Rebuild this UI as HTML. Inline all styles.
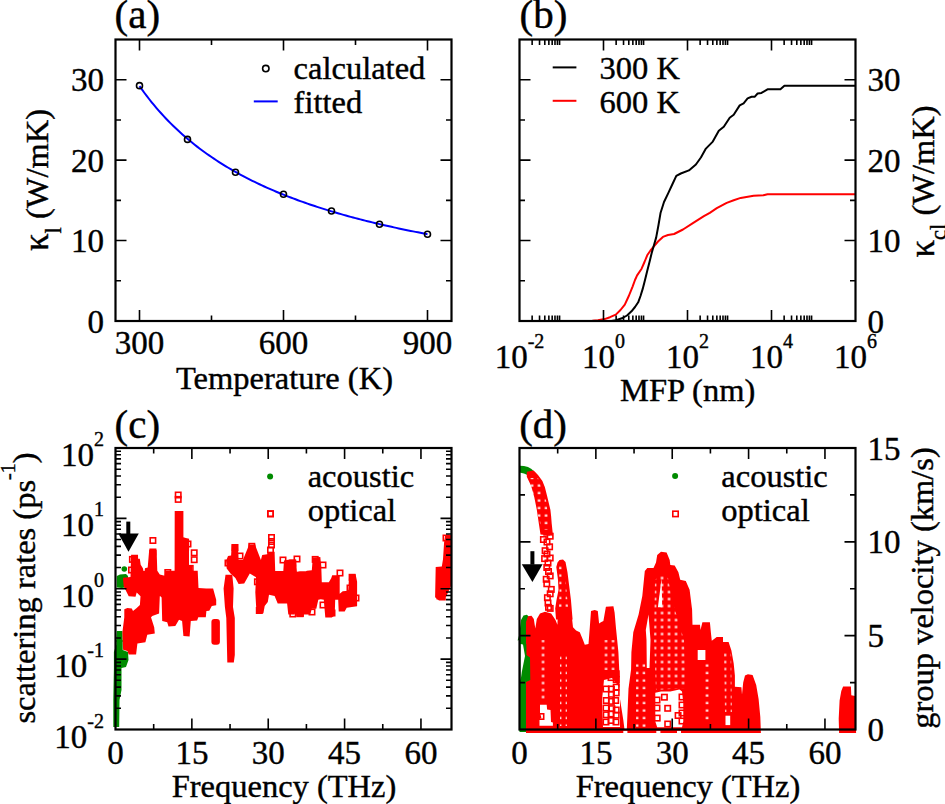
<!DOCTYPE html>
<html><head><meta charset="utf-8"><style>html,body{margin:0;padding:0;background:#fff;overflow:hidden}svg{display:block}</style></head>
<body><svg width="945" height="804" viewBox="0 0 945 804" font-family="Liberation Serif, serif" fill="#000"><style>text{stroke:#000;stroke-width:0.4px}</style>
<g id="plotmarks"><path d="M139.50 86.07 L141.90 89.45 L144.30 92.73 L146.70 95.92 L149.10 99.01 L151.50 102.02 L153.90 104.95 L156.30 107.79 L158.70 110.56 L161.10 113.26 L163.50 115.89 L165.90 118.45 L168.30 120.94 L170.70 123.37 L173.10 125.74 L175.50 128.06 L177.90 130.31 L180.30 132.52 L182.70 134.67 L185.10 136.77 L187.50 138.83 L189.90 140.84 L192.30 142.80 L194.70 144.72 L197.10 146.60 L199.50 148.43 L201.90 150.23 L204.30 151.99 L206.70 153.71 L209.10 155.40 L211.50 157.05 L213.90 158.67 L216.30 160.26 L218.70 161.82 L221.10 163.34 L223.50 164.84 L225.90 166.31 L228.30 167.75 L230.70 169.16 L233.10 170.54 L235.50 171.90 L237.90 173.24 L240.30 174.55 L242.70 175.84 L245.10 177.10 L247.50 178.35 L249.90 179.57 L252.30 180.77 L254.70 181.95 L257.10 183.11 L259.50 184.25 L261.90 185.37 L264.30 186.47 L266.70 187.56 L269.10 188.62 L271.50 189.67 L273.90 190.70 L276.30 191.72 L278.70 192.72 L281.10 193.71 L283.50 194.68 L285.90 195.63 L288.30 196.57 L290.70 197.50 L293.10 198.41 L295.50 199.31 L297.90 200.19 L300.30 201.07 L302.70 201.93 L305.10 202.77 L307.50 203.61 L309.90 204.43 L312.30 205.24 L314.70 206.04 L317.10 206.83 L319.50 207.61 L321.90 208.38 L324.30 209.14 L326.70 209.88 L329.10 210.62 L331.50 211.35 L333.90 212.07 L336.30 212.77 L338.70 213.47 L341.10 214.16 L343.50 214.84 L345.90 215.52 L348.30 216.18 L350.70 216.84 L353.10 217.48 L355.50 218.12 L357.90 218.75 L360.30 219.38 L362.70 219.99 L365.10 220.60 L367.50 221.20 L369.90 221.80 L372.30 222.38 L374.70 222.96 L377.10 223.54 L379.50 224.10 L381.90 224.66 L384.30 225.21 L386.70 225.76 L389.10 226.30 L391.50 226.84 L393.90 227.37 L396.30 227.89 L398.70 228.40 L401.10 228.92 L403.50 229.42 L405.90 229.92 L408.30 230.42 L410.70 230.90 L413.10 231.39 L415.50 231.87 L417.90 232.34 L420.30 232.81 L422.70 233.27 L425.10 233.73 L427.50 234.18" fill="none" stroke="#0000ff" stroke-width="2"/>
<circle cx="139.50" cy="85.67" r="3" fill="none" stroke="#000" stroke-width="1.6"/>
<circle cx="187.50" cy="139.39" r="3" fill="none" stroke="#000" stroke-width="1.6"/>
<circle cx="235.50" cy="172.21" r="3" fill="none" stroke="#000" stroke-width="1.6"/>
<circle cx="283.50" cy="194.32" r="3" fill="none" stroke="#000" stroke-width="1.6"/>
<circle cx="331.50" cy="210.97" r="3" fill="none" stroke="#000" stroke-width="1.6"/>
<circle cx="379.50" cy="224.24" r="3" fill="none" stroke="#000" stroke-width="1.6"/>
<circle cx="427.50" cy="234.30" r="3" fill="none" stroke="#000" stroke-width="1.6"/>
<path d="M585.0 321.0 L592.3 320.8 L598.0 320.3 L604.6 319.1 L610.0 317.2 L615.8 314.6 L620.5 310.0 L624.8 304.6 L628.8 296.0 L632.6 286.6 L635.0 280.0 L637.1 275.4 L641.6 268.7 L644.5 262.0 L647.2 255.3 L650.5 250.5 L653.9 246.3 L658.0 241.5 L662.9 236.9 L668.0 235.0 L674.1 234.0 L683.0 229.5 L692.9 223.1 L703.9 216.2 L709.8 212.8 L716.8 208.2 L726.7 202.9 L733.7 200.3 L740.7 197.9 L753.6 195.7 L763.5 195.3 L767.5 194.3 L855.5 194.3" fill="none" stroke="#ff0000" stroke-width="2" stroke-linejoin="round"/>
<path d="M611.4 321.0 L616.0 320.2 L622.6 318.0 L627.0 315.5 L631.5 311.3 L635.0 307.0 L638.2 302.3 L640.5 296.0 L642.7 288.9 L645.0 280.0 L647.2 271.0 L649.5 262.0 L651.7 253.0 L654.0 245.0 L656.2 237.4 L658.5 225.0 L660.6 212.7 L664.0 202.0 L668.5 192.6 L672.5 184.0 L676.3 175.8 L680.8 173.5 L688.9 170.4 L695.9 164.5 L700.9 157.5 L705.9 148.6 L712.8 141.6 L718.8 130.7 L723.8 126.7 L729.7 117.7 L733.7 114.7 L739.7 105.4 L743.6 103.4 L747.6 98.4 L751.6 96.8 L754.6 96.8 L757.6 93.5 L761.5 92.9 L767.5 89.3 L780.4 89.3 L784.4 85.7 L855.5 85.7" fill="none" stroke="#000" stroke-width="2" stroke-linejoin="round"/><polygon points="116.2,640.0 122.7,640.0 122.7,650.0 128.0,652.0 128.5,660.0 126.0,667.0 121.5,668.0 121.5,690.0 119.5,700.0 119.2,727.0 113.3,727.0 113.3,700.0 113.9,668.0 113.9,652.0 116.2,645.0" fill="#008b00"/>
<polygon points="116.8,576.0 120.0,574.5 126.0,574.0 128.0,576.0 128.0,587.0 122.0,588.0 116.8,587.5" fill="#008b00"/>
<polygon points="116.8,631.0 122.4,631.0 122.7,642.0 116.2,642.0" fill="#008b00"/>
<circle cx="124.3" cy="569" r="2.8" fill="#008b00"/>
<polygon points="123.1,577.7 130.5,577.1 131.1,554.7 138.0,554.7 138.1,558.7 139.8,558.7 140.7,564.8 142.9,568.3 143.5,571.0 144.6,570.9 145.0,568.3 147.7,567.5 149.2,549.7 156.6,549.7 157.3,570.8 159.8,574.6 164.7,575.8 165.3,570.8 174.6,570.8 174.7,511.1 183.4,511.1 183.4,537.3 189.0,539.1 189.0,565.9 192.1,565.9 192.1,570.8 197.7,570.8 198.5,588.0 206.2,588.5 213.1,588.5 216.2,599.7 216.2,605.2 211.8,605.9 209.3,610.8 206.4,611.1 205.8,617.3 198.3,617.3 197.1,620.4 190.8,621.0 189.6,636.6 183.4,636.0 182.1,621.0 179.0,619.8 175.3,626.0 168.5,626.6 167.2,622.3 162.2,621.0 161.6,597.4 160.4,596.2 159.8,596.2 159.1,613.6 152.3,616.1 151.0,617.3 154.2,627.3 154.8,633.5 147.3,634.7 145.4,642.2 137.4,643.4 136.1,654.6 128.7,654.6 127.4,650.9 123.1,649.7 122.4,632.2 124.3,617.3 124.3,609.2 127.4,608.0 131.8,608.6 133.0,611.1 136.7,608.0 139.9,604.9 140.5,596.2 136.7,592.4 135.5,596.8 128.7,596.2 123.7,586.2 123.1,580.0" fill="#ff0000"/>
<rect x="211.4" y="618.9" width="8.5" height="25.8" rx="3" fill="#ff0000"/>
<polygon points="225.5,574.8 232.3,574.8 233.6,588.5 233.0,607.1 234.8,617.9 234.8,655.0 233.8,662.6 227.3,662.6 226.3,617.9 224.9,607.1 223.6,588.5" fill="#ff0000"/>
<polygon points="226.1,561.1 228.0,556.1 231.1,555.5 231.7,544.3 237.9,544.3 238.6,559.9 242.9,559.9 248.5,546.2 255.3,545.5 260.9,559.9 262.2,554.9 267.2,554.3 267.8,551.8 274.6,551.8 275.2,571.0 283.3,571.0 284.0,560.4 289.5,559.4 295.9,559.4 296.9,571.8 299.9,571.3 305.9,571.3 306.9,570.8 311.8,570.3 312.8,557.4 320.3,556.9 321.3,566.9 321.8,582.3 328.8,582.3 331.2,578.3 332.2,575.3 339.7,575.3 339.7,593.7 342.7,591.2 348.2,590.7 349.2,574.3 355.6,574.3 357.1,581.8 357.1,606.2 346.7,607.7 344.7,611.6 338.7,611.6 338.2,599.7 335.2,599.7 334.7,615.6 331.7,617.6 325.3,617.6 323.8,599.7 320.8,599.2 318.3,599.7 316.3,608.7 311.8,608.7 310.3,614.6 303.9,614.6 303.4,616.6 296.4,616.6 295.9,611.6 294.4,614.6 288.3,614.6 287.1,603.4 277.7,603.4 274.6,595.9 269.0,594.7 267.8,602.1 264.7,605.9 263.4,613.3 256.6,613.3 256.0,604.6 255.3,592.2 256.0,577.3 249.8,573.5 244.2,583.5 238.6,584.1 235.4,577.9 230.5,573.5 226.7,568.6" fill="#ff0000"/>
<polygon points="445.2,535.1 451.0,535.1 451.0,586.0 445.8,597.3 445.8,600.6 439.0,600.6 435.1,597.3 435.7,567.0 441.8,566.5 443.0,559.2 444.1,542.4" fill="#ff0000"/>
<rect x="175.5" y="492.3" width="5.4" height="5.4" fill="none" stroke="#ff0000" stroke-width="1.6"/>
<rect x="175.5" y="496.7" width="5.4" height="5.4" fill="none" stroke="#ff0000" stroke-width="1.6"/>
<rect x="150.2" y="537.8" width="5.4" height="5.4" fill="none" stroke="#ff0000" stroke-width="1.6"/>
<rect x="191.5" y="550.1" width="5.4" height="5.4" fill="none" stroke="#ff0000" stroke-width="1.6"/>
<rect x="191.5" y="557.0" width="5.4" height="5.4" fill="none" stroke="#ff0000" stroke-width="1.6"/>
<rect x="182.9" y="539.5" width="5.4" height="5.4" fill="none" stroke="#ff0000" stroke-width="1.6"/>
<rect x="182.9" y="544.5" width="5.4" height="5.4" fill="none" stroke="#ff0000" stroke-width="1.6"/>
<rect x="187.5" y="565.7" width="5.4" height="5.4" fill="none" stroke="#ff0000" stroke-width="1.6"/>
<rect x="267.8" y="511.0" width="5.4" height="5.4" fill="none" stroke="#ff0000" stroke-width="1.6"/>
<rect x="268.8" y="534.8" width="5.4" height="5.4" fill="none" stroke="#ff0000" stroke-width="1.6"/>
<rect x="268.8" y="538.8" width="5.4" height="5.4" fill="none" stroke="#ff0000" stroke-width="1.6"/>
<rect x="268.8" y="542.3" width="5.4" height="5.4" fill="none" stroke="#ff0000" stroke-width="1.6"/>
<rect x="232.3" y="544.8" width="5.4" height="5.4" fill="none" stroke="#ff0000" stroke-width="1.6"/>
<rect x="249.3" y="545.3" width="5.4" height="5.4" fill="none" stroke="#ff0000" stroke-width="1.6"/>
<rect x="295.6" y="608.1" width="5.4" height="5.4" fill="none" stroke="#ff0000" stroke-width="1.6"/>
<rect x="297.2" y="610.9" width="5.4" height="5.4" fill="none" stroke="#ff0000" stroke-width="1.6"/>
<rect x="349.4" y="574.6" width="5.4" height="5.4" fill="none" stroke="#ff0000" stroke-width="1.6"/>
<rect x="129.7" y="556.7" width="5.4" height="5.4" fill="none" stroke="#ff0000" stroke-width="1.6"/>
<rect x="150.2" y="549.3" width="5.4" height="5.4" fill="none" stroke="#ff0000" stroke-width="1.6"/>
<rect x="165.1" y="569.8" width="5.4" height="5.4" fill="none" stroke="#ff0000" stroke-width="1.6"/>
<rect x="249.1" y="543.6" width="5.4" height="5.4" fill="none" stroke="#ff0000" stroke-width="1.6"/>
<rect x="290.1" y="560.4" width="5.4" height="5.4" fill="none" stroke="#ff0000" stroke-width="1.6"/>
<rect x="312.5" y="556.7" width="5.4" height="5.4" fill="none" stroke="#ff0000" stroke-width="1.6"/>
<rect x="297.6" y="610.9" width="5.4" height="5.4" fill="none" stroke="#ff0000" stroke-width="1.6"/>
<rect x="290.1" y="611.3" width="5.4" height="5.4" fill="none" stroke="#ff0000" stroke-width="1.6"/>
<rect x="256.6" y="607.8" width="5.4" height="5.4" fill="none" stroke="#ff0000" stroke-width="1.6"/>
<rect x="254.7" y="579.1" width="5.4" height="5.4" fill="none" stroke="#ff0000" stroke-width="1.6"/>
<rect x="128.8" y="567.3" width="5.4" height="5.4" fill="none" stroke="#ff0000" stroke-width="1.6"/>
<rect x="185.3" y="541.3" width="5.4" height="5.4" fill="none" stroke="#ff0000" stroke-width="1.6"/>
<rect x="225.3" y="560.3" width="5.4" height="5.4" fill="none" stroke="#ff0000" stroke-width="1.6"/>
<rect x="237.3" y="553.3" width="5.4" height="5.4" fill="none" stroke="#ff0000" stroke-width="1.6"/>
<rect x="267.8" y="547.3" width="5.4" height="5.4" fill="none" stroke="#ff0000" stroke-width="1.6"/>
<rect x="280.3" y="557.3" width="5.4" height="5.4" fill="none" stroke="#ff0000" stroke-width="1.6"/>
<rect x="294.3" y="556.3" width="5.4" height="5.4" fill="none" stroke="#ff0000" stroke-width="1.6"/>
<rect x="320.3" y="562.3" width="5.4" height="5.4" fill="none" stroke="#ff0000" stroke-width="1.6"/>
<rect x="337.3" y="570.3" width="5.4" height="5.4" fill="none" stroke="#ff0000" stroke-width="1.6"/>
<rect x="347.3" y="585.3" width="5.4" height="5.4" fill="none" stroke="#ff0000" stroke-width="1.6"/>
<rect x="353.3" y="595.3" width="5.4" height="5.4" fill="none" stroke="#ff0000" stroke-width="1.6"/>
<rect x="329.3" y="610.3" width="5.4" height="5.4" fill="none" stroke="#ff0000" stroke-width="1.6"/>
<rect x="309.3" y="609.3" width="5.4" height="5.4" fill="none" stroke="#ff0000" stroke-width="1.6"/>
<rect x="320.3" y="602.3" width="5.4" height="5.4" fill="none" stroke="#ff0000" stroke-width="1.6"/>
<rect x="437.3" y="593.3" width="5.4" height="5.4" fill="none" stroke="#ff0000" stroke-width="1.6"/>
<rect x="443.3" y="535.3" width="5.4" height="5.4" fill="none" stroke="#ff0000" stroke-width="1.6"/>
<rect x="126.3" y="521.6" width="4" height="13" fill="#000"/>
<polygon points="118.3,533.5 138.8,533.5 128.5,551.8" fill="#000"/><polygon points="519.5,465.8 524.0,465.9 528.0,467.0 531.5,469.0 533.5,471.0 527.4,475.0 524.0,473.5 519.5,472.6" fill="#008b00"/>
<polygon points="521.0,620.0 523.5,615.5 527.0,614.8 529.0,617.0 529.0,732.0 519.5,732.0 519.5,640.0 517.6,640.5 519.2,635.0" fill="#008b00"/>
<polygon points="519.5,733.0 526.0,733.0 526.0,622.0 528.0,616.2 531.5,615.8 533.8,619.0 535.3,628.5 536.8,619.0 540.0,613.6 545.0,611.8 551.2,613.6 555.5,619.9 557.4,624.8 557.9,613.4 560.5,611.0 566.0,610.5 569.7,611.5 571.6,614.6 573.0,627.3 576.1,630.4 579.8,632.3 582.9,639.8 584.8,644.7 588.5,644.1 589.8,627.3 591.0,611.1 594.7,609.9 597.8,611.1 599.1,623.6 600.9,622.3 603.4,621.1 605.9,606.8 613.4,606.2 614.6,612.4 615.9,627.3 618.4,652.2 619.6,677.1 619.4,695.3 623.3,720.0 624.5,729.5 626.8,729.5 628.5,688.7 631.1,669.2 631.4,652.2 633.3,632.3 638.6,614.6 642.3,596.0 644.8,571.1 647.3,568.0 653.5,568.0 656.0,562.4 657.2,554.9 661.0,551.8 666.6,552.4 669.7,559.9 670.3,564.9 674.7,565.5 678.4,572.3 680.2,579.8 685.8,581.0 689.6,589.8 692.1,609.7 692.5,624.7 700.0,624.7 700.5,630.0 702.4,622.2 709.9,622.2 711.1,634.6 711.8,640.8 716.7,637.1 723.0,637.1 723.0,642.1 728.6,642.1 731.4,650.6 733.7,663.6 734.9,675.5 734.9,686.7 741.4,687.3 742.0,694.4 743.2,682.6 745.0,675.5 747.9,674.3 752.6,674.9 756.2,684.9 758.6,699.1 760.3,716.8 760.9,733.0" fill="#ff0000"/>
<polygon points="540.0,704.8 546.7,704.8 547.1,709.5 550.5,710.0 551.0,721.9 552.9,722.4 552.9,725.7 539.5,725.7 539.5,719.5 541.4,717.6 540.0,712.9" fill="#ffffff"/>
<rect x="538.3" y="713.8" width="5.4" height="5.4" fill="none" stroke="#ff0000" stroke-width="1.6"/>
<polygon points="661.6,578.6 662.2,607.2 657.9,607.2" fill="#ffffff"/>
<polygon points="648.5,614.6 650.5,640.0 649.5,668.0 646.8,668.0 646.5,640.0 645.8,630.0" fill="#ffffff"/>
<polygon points="655.3,692.7 661.1,691.4 670.3,691.4 679.4,689.4 682.0,691.4 683.3,703.1 683.3,721.4 682.0,727.3 657.2,727.3 655.3,721.4" fill="#ffffff"/>
<rect x="661.7" y="694.5" width="5.4" height="5.4" fill="none" stroke="#ff0000" stroke-width="1.6"/>
<rect x="665.0" y="705.6" width="5.4" height="5.4" fill="none" stroke="#ff0000" stroke-width="1.6"/>
<rect x="675.4" y="712.8" width="5.4" height="5.4" fill="none" stroke="#ff0000" stroke-width="1.6"/>
<rect x="654.5" y="715.4" width="5.4" height="5.4" fill="none" stroke="#ff0000" stroke-width="1.6"/>
<rect x="665.0" y="721.3" width="5.4" height="5.4" fill="none" stroke="#ff0000" stroke-width="1.6"/>
<rect x="679.3" y="694.3" width="5.4" height="5.4" fill="none" stroke="#ff0000" stroke-width="1.6"/>
<rect x="679.3" y="702.3" width="5.4" height="5.4" fill="none" stroke="#ff0000" stroke-width="1.6"/>
<rect x="679.3" y="710.3" width="5.4" height="5.4" fill="none" stroke="#ff0000" stroke-width="1.6"/>
<rect x="679.3" y="718.3" width="5.4" height="5.4" fill="none" stroke="#ff0000" stroke-width="1.6"/>
<rect x="654.3" y="697.3" width="5.4" height="5.4" fill="none" stroke="#ff0000" stroke-width="1.6"/>
<rect x="654.3" y="705.3" width="5.4" height="5.4" fill="none" stroke="#ff0000" stroke-width="1.6"/>
<rect x="697.7" y="650" width="7.7" height="10" fill="#fff"/>
<rect x="725.5" y="715.7" width="4.7" height="9.4" fill="#fff"/>
<polygon points="604.0,680.0 612.0,678.0 620.0,688.0 620.0,727.0 603.0,727.0 602.0,700.0" fill="#ffffff"/>
<rect x="608.3" y="669.2" width="5.4" height="5.4" fill="none" stroke="#ff0000" stroke-width="1.6"/>
<rect x="613.5" y="671.1" width="5.4" height="5.4" fill="none" stroke="#ff0000" stroke-width="1.6"/>
<rect x="608.3" y="674.9" width="5.4" height="5.4" fill="none" stroke="#ff0000" stroke-width="1.6"/>
<rect x="613.5" y="676.8" width="5.4" height="5.4" fill="none" stroke="#ff0000" stroke-width="1.6"/>
<rect x="613.5" y="684.4" width="5.4" height="5.4" fill="none" stroke="#ff0000" stroke-width="1.6"/>
<rect x="608.7" y="686.3" width="5.4" height="5.4" fill="none" stroke="#ff0000" stroke-width="1.6"/>
<rect x="613.5" y="690.2" width="5.4" height="5.4" fill="none" stroke="#ff0000" stroke-width="1.6"/>
<rect x="608.7" y="691.6" width="5.4" height="5.4" fill="none" stroke="#ff0000" stroke-width="1.6"/>
<rect x="613.0" y="697.8" width="5.4" height="5.4" fill="none" stroke="#ff0000" stroke-width="1.6"/>
<rect x="608.7" y="698.7" width="5.4" height="5.4" fill="none" stroke="#ff0000" stroke-width="1.6"/>
<rect x="603.5" y="697.8" width="5.4" height="5.4" fill="none" stroke="#ff0000" stroke-width="1.6"/>
<rect x="609.2" y="705.9" width="5.4" height="5.4" fill="none" stroke="#ff0000" stroke-width="1.6"/>
<rect x="613.5" y="707.3" width="5.4" height="5.4" fill="none" stroke="#ff0000" stroke-width="1.6"/>
<rect x="603.5" y="712.1" width="5.4" height="5.4" fill="none" stroke="#ff0000" stroke-width="1.6"/>
<rect x="613.5" y="712.5" width="5.4" height="5.4" fill="none" stroke="#ff0000" stroke-width="1.6"/>
<rect x="608.3" y="717.8" width="5.4" height="5.4" fill="none" stroke="#ff0000" stroke-width="1.6"/>
<rect x="603.3" y="686.3" width="5.4" height="5.4" fill="none" stroke="#ff0000" stroke-width="1.6"/>
<rect x="603.3" y="705.3" width="5.4" height="5.4" fill="none" stroke="#ff0000" stroke-width="1.6"/>
<rect x="608.3" y="711.3" width="5.4" height="5.4" fill="none" stroke="#ff0000" stroke-width="1.6"/>
<rect x="613.3" y="719.3" width="5.4" height="5.4" fill="none" stroke="#ff0000" stroke-width="1.6"/>
<rect x="603.3" y="719.3" width="5.4" height="5.4" fill="none" stroke="#ff0000" stroke-width="1.6"/>
<polygon points="520.3,644.0 526.3,644.0 526.5,655.0 530.0,657.5 530.3,680.0 526.0,682.0 526.0,731.0 519.5,731.0 519.5,644.0" fill="#008b00"/>
<polygon points="520.6,643.9 523.0,644.5 525.0,656.0 521.8,672.0 520.6,680.4" fill="#ffffff"/>
<polygon points="526.8,471.8 526.8,476.7 531.2,486.1 534.3,497.3 536.8,509.7 538.6,522.1 540.5,534.6 553.0,535.8 551.7,523.4 551.1,515.9 550.4,509.7 548.6,502.2 547.1,496.0 544.9,487.3 542.4,481.1 538.0,474.9 533.7,470.5" fill="#ff0000"/>
<rect x="544.1" y="529.5" width="5.4" height="5.4" fill="none" stroke="#ff0000" stroke-width="1.6"/>
<rect x="547.5" y="533.5" width="5.4" height="5.4" fill="none" stroke="#ff0000" stroke-width="1.6"/>
<rect x="540.7" y="536.8" width="5.4" height="5.4" fill="none" stroke="#ff0000" stroke-width="1.6"/>
<rect x="544.3" y="539.3" width="5.4" height="5.4" fill="none" stroke="#ff0000" stroke-width="1.6"/>
<rect x="546.9" y="544.1" width="5.4" height="5.4" fill="none" stroke="#ff0000" stroke-width="1.6"/>
<rect x="542.4" y="548.0" width="5.4" height="5.4" fill="none" stroke="#ff0000" stroke-width="1.6"/>
<rect x="547.5" y="555.3" width="5.4" height="5.4" fill="none" stroke="#ff0000" stroke-width="1.6"/>
<rect x="541.9" y="555.9" width="5.4" height="5.4" fill="none" stroke="#ff0000" stroke-width="1.6"/>
<rect x="544.3" y="551.3" width="5.4" height="5.4" fill="none" stroke="#ff0000" stroke-width="1.6"/>
<rect x="544.1" y="564.8" width="5.4" height="5.4" fill="none" stroke="#ff0000" stroke-width="1.6"/>
<rect x="545.3" y="560.3" width="5.4" height="5.4" fill="none" stroke="#ff0000" stroke-width="1.6"/>
<rect x="547.5" y="573.2" width="5.4" height="5.4" fill="none" stroke="#ff0000" stroke-width="1.6"/>
<rect x="543.5" y="576.6" width="5.4" height="5.4" fill="none" stroke="#ff0000" stroke-width="1.6"/>
<rect x="545.8" y="568.8" width="5.4" height="5.4" fill="none" stroke="#ff0000" stroke-width="1.6"/>
<rect x="544.1" y="581.1" width="5.4" height="5.4" fill="none" stroke="#ff0000" stroke-width="1.6"/>
<rect x="548.6" y="586.7" width="5.4" height="5.4" fill="none" stroke="#ff0000" stroke-width="1.6"/>
<rect x="547.5" y="591.1" width="5.4" height="5.4" fill="none" stroke="#ff0000" stroke-width="1.6"/>
<rect x="544.7" y="595.0" width="5.4" height="5.4" fill="none" stroke="#ff0000" stroke-width="1.6"/>
<rect x="545.8" y="604.6" width="5.4" height="5.4" fill="none" stroke="#ff0000" stroke-width="1.6"/>
<rect x="547.5" y="605.7" width="5.4" height="5.4" fill="none" stroke="#ff0000" stroke-width="1.6"/>
<rect x="545.3" y="600.3" width="5.4" height="5.4" fill="none" stroke="#ff0000" stroke-width="1.6"/>
<polygon points="557.5,562.5 559.5,560.0 563.0,559.5 565.5,562.0 567.5,572.6 569.2,586.0 570.9,599.4 572.6,619.6 556.0,619.6 555.2,608.4 556.5,600.0 558.5,590.0 558.0,580.0 556.3,567.0" fill="#ff0000"/>
<polygon points="559,566 564,566 566.5,590 568,608 559,608 559.5,590" fill="url(#spk2)"/>
<polygon points="843.1,686.5 850.9,686.5 851.3,695.2 855.2,696.1 856.1,733.0 839.1,733.0 838.7,718.7 839.6,700.5 841.3,690.9" fill="#ff0000"/>
<rect x="530.4" y="551.2" width="4" height="13.5" fill="#000"/>
<polygon points="521.8,564.3 542.6,564.3 532.4,581.9" fill="#000"/>
<defs><pattern id="spk" x="0.5" y="0.5" width="7" height="7" patternUnits="userSpaceOnUse"><rect x="2.4" y="2.4" width="2.3" height="2.3" fill="#fff"/></pattern><pattern id="spk2" x="3.5" y="2" width="7" height="7.5" patternUnits="userSpaceOnUse"><rect x="2.4" y="2.4" width="2.3" height="2.3" fill="#fff"/></pattern></defs>
<polygon points="655.0,580.0 661.0,575.0 668.0,578.0 672.0,600.0 684.0,640.0 686.0,688.0 656.0,690.0 654.0,640.0" fill="url(#spk)"/>
<polygon points="636.0,660.0 645.0,660.0 647.0,728.0 636.0,728.0" fill="url(#spk2)"/>
<polygon points="540.0,640.0 548.0,640.0 548.0,700.0 540.0,700.0" fill="url(#spk)"/>
<polygon points="704.0,662.0 712.0,662.0 712.0,722.0 704.0,722.0" fill="url(#spk2)"/>
<polygon points="724.0,650.0 731.0,650.0 732.0,712.0 725.0,712.0" fill="url(#spk)"/>
<polygon points="560.0,655.0 567.0,655.0 567.0,726.0 560.0,726.0" fill="url(#spk2)"/>
<polygon points="604.0,640.0 617.0,640.0 617.0,670.0 604.0,670.0" fill="url(#spk)"/>
<polygon points="529.0,478.0 538.0,478.0 546.0,500.0 550.0,530.0 542.0,530.0 535.0,505.0" fill="url(#spk2)"/>
<path d="M623.3 730.8h4.1v3.5h-4.1zM656.3 730.8h4.1v3.5h-4.1zM677 730.8h4v3.5h-4z" fill="#fff"/></g>
<path d="M139.50 321.0v-11M139.50 39.5v11M283.50 321.0v-11M283.50 39.5v11M427.50 321.0v-11M427.50 39.5v11M211.50 321.0v-5.5M211.50 39.5v5.5M355.50 321.0v-5.5M355.50 39.5v5.5M115.5 240.57h11M451.5 240.57h-11M115.5 160.14h11M451.5 160.14h-11M115.5 79.71h11M451.5 79.71h-11M115.5 280.79h5.5M451.5 280.79h-5.5M115.5 200.36h5.5M451.5 200.36h-5.5M115.5 119.93h5.5M451.5 119.93h-5.5M603.50 321.0v-11M603.50 39.5v11M687.50 321.0v-11M687.50 39.5v11M771.50 321.0v-11M771.50 39.5v11M532.14 321.0v-5.5M532.14 39.5v5.5M539.54 321.0v-5.5M539.54 39.5v5.5M544.79 321.0v-5.5M544.79 39.5v5.5M548.86 321.0v-5.5M548.86 39.5v5.5M552.18 321.0v-5.5M552.18 39.5v5.5M554.99 321.0v-5.5M554.99 39.5v5.5M557.43 321.0v-5.5M557.43 39.5v5.5M559.58 321.0v-5.5M559.58 39.5v5.5M616.14 321.0v-5.5M616.14 39.5v5.5M623.54 321.0v-5.5M623.54 39.5v5.5M628.79 321.0v-5.5M628.79 39.5v5.5M632.86 321.0v-5.5M632.86 39.5v5.5M636.18 321.0v-5.5M636.18 39.5v5.5M638.99 321.0v-5.5M638.99 39.5v5.5M641.43 321.0v-5.5M641.43 39.5v5.5M643.58 321.0v-5.5M643.58 39.5v5.5M700.14 321.0v-5.5M700.14 39.5v5.5M707.54 321.0v-5.5M707.54 39.5v5.5M712.79 321.0v-5.5M712.79 39.5v5.5M716.86 321.0v-5.5M716.86 39.5v5.5M720.18 321.0v-5.5M720.18 39.5v5.5M722.99 321.0v-5.5M722.99 39.5v5.5M725.43 321.0v-5.5M725.43 39.5v5.5M727.58 321.0v-5.5M727.58 39.5v5.5M784.14 321.0v-5.5M784.14 39.5v5.5M791.54 321.0v-5.5M791.54 39.5v5.5M796.79 321.0v-5.5M796.79 39.5v5.5M800.86 321.0v-5.5M800.86 39.5v5.5M804.18 321.0v-5.5M804.18 39.5v5.5M806.99 321.0v-5.5M806.99 39.5v5.5M809.43 321.0v-5.5M809.43 39.5v5.5M811.58 321.0v-5.5M811.58 39.5v5.5M519.5 240.57h11M855.5 240.57h-11M519.5 160.14h11M855.5 160.14h-11M519.5 79.71h11M855.5 79.71h-11M519.5 280.79h5.5M855.5 280.79h-5.5M519.5 200.36h5.5M855.5 200.36h-5.5M519.5 119.93h5.5M855.5 119.93h-5.5M191.86 729.5v-11M191.86 448.0v11M268.23 729.5v-11M268.23 448.0v11M344.59 729.5v-11M344.59 448.0v11M420.95 729.5v-11M420.95 448.0v11M153.68 729.5v-5.5M153.68 448.0v5.5M230.05 729.5v-5.5M230.05 448.0v5.5M306.41 729.5v-5.5M306.41 448.0v5.5M382.77 729.5v-5.5M382.77 448.0v5.5M115.5 659.12h11M451.5 659.12h-11M115.5 588.75h11M451.5 588.75h-11M115.5 518.38h11M451.5 518.38h-11M115.5 708.32h5.5M451.5 708.32h-5.5M115.5 695.92h5.5M451.5 695.92h-5.5M115.5 687.13h5.5M451.5 687.13h-5.5M115.5 680.31h5.5M451.5 680.31h-5.5M115.5 674.74h5.5M451.5 674.74h-5.5M115.5 670.03h5.5M451.5 670.03h-5.5M115.5 665.95h5.5M451.5 665.95h-5.5M115.5 662.35h5.5M451.5 662.35h-5.5M115.5 637.94h5.5M451.5 637.94h-5.5M115.5 625.55h5.5M451.5 625.55h-5.5M115.5 616.76h5.5M451.5 616.76h-5.5M115.5 609.93h5.5M451.5 609.93h-5.5M115.5 604.36h5.5M451.5 604.36h-5.5M115.5 599.65h5.5M451.5 599.65h-5.5M115.5 595.57h5.5M451.5 595.57h-5.5M115.5 591.97h5.5M451.5 591.97h-5.5M115.5 567.57h5.5M451.5 567.57h-5.5M115.5 555.17h5.5M451.5 555.17h-5.5M115.5 546.38h5.5M451.5 546.38h-5.5M115.5 539.56h5.5M451.5 539.56h-5.5M115.5 533.99h5.5M451.5 533.99h-5.5M115.5 529.28h5.5M451.5 529.28h-5.5M115.5 525.20h5.5M451.5 525.20h-5.5M115.5 521.60h5.5M451.5 521.60h-5.5M115.5 497.19h5.5M451.5 497.19h-5.5M115.5 484.80h5.5M451.5 484.80h-5.5M115.5 476.01h5.5M451.5 476.01h-5.5M115.5 469.18h5.5M451.5 469.18h-5.5M115.5 463.61h5.5M451.5 463.61h-5.5M115.5 458.90h5.5M451.5 458.90h-5.5M115.5 454.82h5.5M451.5 454.82h-5.5M115.5 451.22h5.5M451.5 451.22h-5.5M595.86 729.5v-11M595.86 448.0v11M672.23 729.5v-11M672.23 448.0v11M748.59 729.5v-11M748.59 448.0v11M824.95 729.5v-11M824.95 448.0v11M557.68 729.5v-5.5M557.68 448.0v5.5M634.05 729.5v-5.5M634.05 448.0v5.5M710.41 729.5v-5.5M710.41 448.0v5.5M786.77 729.5v-5.5M786.77 448.0v5.5M519.5 635.67h11M855.5 635.67h-11M519.5 541.83h11M855.5 541.83h-11M519.5 682.58h5.5M855.5 682.58h-5.5M519.5 588.75h5.5M855.5 588.75h-5.5M519.5 494.92h5.5M855.5 494.92h-5.5" stroke="#000" stroke-width="1.6" fill="none"/>
<rect x="115.5" y="39.5" width="336.0" height="281.5" fill="none" stroke="#000" stroke-width="2.2"/>
<rect x="519.5" y="39.5" width="336.0" height="281.5" fill="none" stroke="#000" stroke-width="2.2"/>
<rect x="115.5" y="448.0" width="336.0" height="281.5" fill="none" stroke="#000" stroke-width="2.2"/>
<rect x="519.5" y="448.0" width="336.0" height="281.5" fill="none" stroke="#000" stroke-width="2.2"/>
<text x="114.6" y="28.0" font-size="41" text-anchor="start" >(a)</text>
<text x="519.6" y="28.0" font-size="41" text-anchor="start" >(b)</text>
<text x="114.6" y="437.5" font-size="41" text-anchor="start" >(c)</text>
<text x="519.2" y="437.5" font-size="41" text-anchor="start" >(d)</text>
<text x="104.0" y="332.5" font-size="33" text-anchor="end" >0</text>
<text x="104.0" y="252.1" font-size="33" text-anchor="end" >10</text>
<text x="104.0" y="171.6" font-size="33" text-anchor="end" >20</text>
<text x="104.0" y="91.2" font-size="33" text-anchor="end" >30</text>
<text x="139.5" y="354.0" font-size="33" text-anchor="middle" >300</text>
<text x="283.5" y="354.0" font-size="33" text-anchor="middle" >600</text>
<text x="427.5" y="354.0" font-size="33" text-anchor="middle" >900</text>
<text x="284.5" y="388.5" font-size="32.5" text-anchor="middle" >Temperature (K)</text>
<text transform="translate(48,180) rotate(-90)" font-size="32.5" text-anchor="middle"><tspan font-size="35">κ</tspan><tspan font-size="22.5" dy="12.5">l</tspan><tspan dy="-12.5"> (W/mK)</tspan></text>
<circle cx="265.8" cy="68.6" r="3.2" fill="none" stroke="#000" stroke-width="1.6"/>
<path d="M253.8 101.4H277.7" stroke="#0000ff" stroke-width="2"/>
<text x="293.6" y="78.6" font-size="32.5" text-anchor="start" >calculated</text>
<text x="293.6" y="113.0" font-size="32.5" text-anchor="start" >fitted</text>
<text x="867.5" y="332.5" font-size="33" text-anchor="start" >0</text>
<text x="867.5" y="252.1" font-size="33" text-anchor="start" >10</text>
<text x="867.5" y="171.6" font-size="33" text-anchor="start" >20</text>
<text x="867.5" y="91.2" font-size="33" text-anchor="start" >30</text>
<text x="519.5" y="368" font-size="33" text-anchor="middle">10<tspan font-size="20" dy="-20">-2</tspan></text>
<text x="603.5" y="368" font-size="33" text-anchor="middle">10<tspan font-size="20" dy="-20">0</tspan></text>
<text x="687.5" y="368" font-size="33" text-anchor="middle">10<tspan font-size="20" dy="-20">2</tspan></text>
<text x="771.5" y="368" font-size="33" text-anchor="middle">10<tspan font-size="20" dy="-20">4</tspan></text>
<text x="855.5" y="368" font-size="33" text-anchor="middle">10<tspan font-size="20" dy="-20">6</tspan></text>
<text x="687.7" y="401.0" font-size="32.5" text-anchor="middle" >MFP (nm)</text>
<path d="M552.7 67.4H576.4" stroke="#000" stroke-width="2"/>
<path d="M552.7 100.8H576.4" stroke="#ff0000" stroke-width="2"/>
<text x="599.5" y="78.8" font-size="32.5" text-anchor="start" >300 K</text>
<text x="599.5" y="112.6" font-size="32.5" text-anchor="start" >600 K</text>
<text transform="translate(933.6,181.5) rotate(-90)" font-size="32.5" text-anchor="middle"><tspan font-size="35">κ</tspan><tspan font-size="22.5" dy="12.5">cl</tspan><tspan dy="-12.5"> (W/mK)</tspan></text>
<text x="104" y="747.5" font-size="33" text-anchor="end">10<tspan font-size="20" dy="-20">-2</tspan></text>
<text x="104" y="677.1" font-size="33" text-anchor="end">10<tspan font-size="20" dy="-20">-1</tspan></text>
<text x="104" y="606.8" font-size="33" text-anchor="end">10<tspan font-size="20" dy="-20">0</tspan></text>
<text x="104" y="536.4" font-size="33" text-anchor="end">10<tspan font-size="20" dy="-20">1</tspan></text>
<text x="104" y="466.0" font-size="33" text-anchor="end">10<tspan font-size="20" dy="-20">2</tspan></text>
<text x="115.5" y="763.5" font-size="33" text-anchor="middle" >0</text>
<text x="191.9" y="763.5" font-size="33" text-anchor="middle" >15</text>
<text x="268.2" y="763.5" font-size="33" text-anchor="middle" >30</text>
<text x="344.6" y="763.5" font-size="33" text-anchor="middle" >45</text>
<text x="421.0" y="763.5" font-size="33" text-anchor="middle" >60</text>
<text x="284.0" y="797.0" font-size="32.5" text-anchor="middle" >Frequency (THz)</text>
<text transform="translate(35,588) rotate(-90)" font-size="32.5" text-anchor="middle">scattering rates (ps<tspan font-size="20" dy="-20">-1</tspan><tspan dy="20">)</tspan></text>
<circle cx="270.1" cy="476.5" r="3" fill="#008b00"/>
<rect x="267.8" y="511.2" width="5.4" height="5.4" fill="none" stroke="#ff0000" stroke-width="1.6"/>
<text x="307.7" y="487.2" font-size="32.5" text-anchor="start" >acoustic</text>
<text x="307.7" y="521.3" font-size="32.5" text-anchor="start" >optical</text>
<text x="867.5" y="741.0" font-size="33" text-anchor="start" >0</text>
<text x="867.5" y="647.2" font-size="33" text-anchor="start" >5</text>
<text x="867.5" y="553.3" font-size="33" text-anchor="start" >10</text>
<text x="867.5" y="459.5" font-size="33" text-anchor="start" >15</text>
<text x="519.5" y="763.5" font-size="33" text-anchor="middle" >0</text>
<text x="595.9" y="763.5" font-size="33" text-anchor="middle" >15</text>
<text x="672.2" y="763.5" font-size="33" text-anchor="middle" >30</text>
<text x="748.6" y="763.5" font-size="33" text-anchor="middle" >45</text>
<text x="825.0" y="763.5" font-size="33" text-anchor="middle" >60</text>
<text x="688.0" y="797.0" font-size="32.5" text-anchor="middle" >Frequency (THz)</text>
<text transform="translate(933,588) rotate(-90)" font-size="32.5" text-anchor="middle">group velocity (km/s)</text>
<circle cx="675.1" cy="476.1" r="3" fill="#008b00"/>
<rect x="672.8" y="511.2" width="5.4" height="5.4" fill="none" stroke="#ff0000" stroke-width="1.6"/>
<text x="721.3" y="487.2" font-size="32.5" text-anchor="start" >acoustic</text>
<text x="721.3" y="521.3" font-size="32.5" text-anchor="start" >optical</text>
</svg></body></html>
